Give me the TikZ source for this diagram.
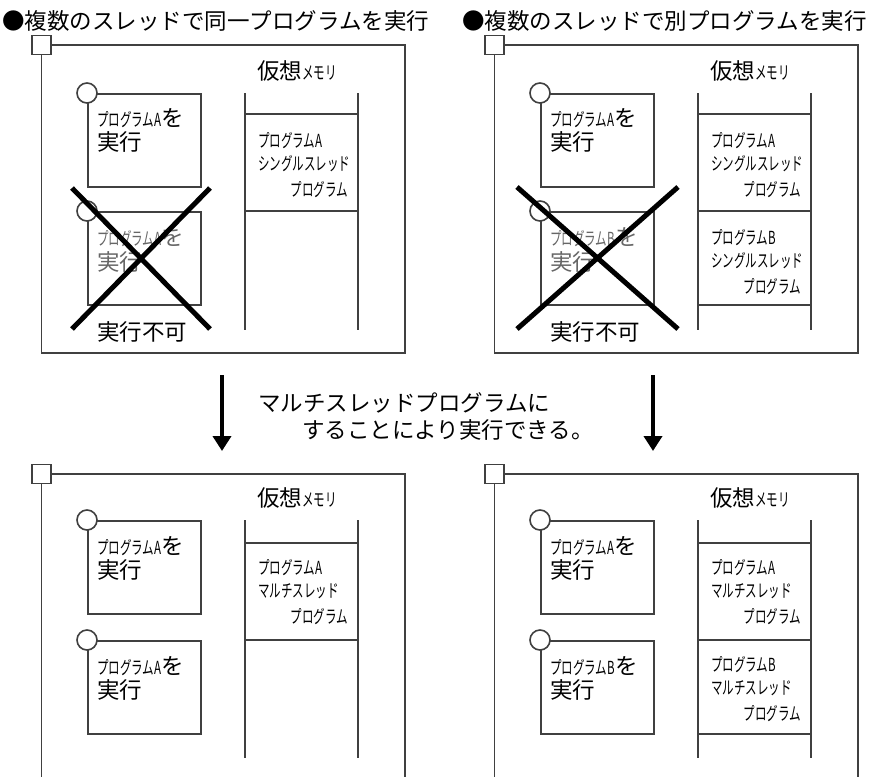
\documentclass[tikz,border=0pt]{standalone}
\usepackage{fontspec}
\usepackage{graphicx}
\setmainfont{Noto Sans CJK JP}
\usetikzlibrary{
  arrows.meta,  % 下向き矢印
  positioning   % 節点の相対配置
}
% 細い小文字のカタカナ (横に縮める)
\newcommand{\hankaku}[1]{{\fontsize{18}{20}\selectfont\scalebox{0.64}[1]{#1}}}
\tikzset{
  wakusen/.style={
    line width=1.6pt,
    draw=black!75
  },
  kado/.style={
    rectangle,
    draw=black!75,
    line width=1.6pt,
    fill=white,
    minimum size=19pt,
    inner sep=0pt
  },
  procbox/.style={
    rectangle,
    draw=black!75,
    line width=1.6pt,
    minimum width=113pt,
    minimum height=93pt,
    inner sep=0pt,
    anchor=north west
  },
  proccirc/.style={
    circle,
    draw=black!75,
    line width=1.6pt,
    fill=white,
    minimum size=20pt,
    inner sep=0pt
  },
  bigtxt/.style={
    font=\fontsize{22.5}{26}\selectfont,
    inner sep=0pt
  },
  memtxt/.style={
    font=\fontsize{18}{20}\selectfont,
    inner sep=0pt
  },
  batsu/.style={
    line width=5pt,
    black
  },
  downarrow/.style={
    -{Triangle[length=15pt,width=18pt]},
    line width=4pt
  }
}

\begin{document}
\begin{tikzpicture}[x=1pt, y=-1pt]
  \useasboundingbox (0,0) rectangle (870,777);

  % --- 左上：同一プログラム (シングルスレッド) ---
  \begin{scope}
    \node[bigtxt, anchor=west] (ttlL) at (2,21) {●複数のスレッドで同一プログラムを実行};
    \node[kado] (sqTL) at (41.5,45) {};
    \draw[wakusen] (sqTL.east) -| (405,353) -| (sqTL.south);
    \node[bigtxt, anchor=west] (vmTL) at (257,71) {仮想\hankaku{メモリ}};

    % 仮想メモリの柱
    \foreach \x in {245,358} \draw[wakusen] (\x,93) -- (\x,330);
    \foreach \y in {114,211} \draw[wakusen] (245,\y) -- (358,\y);
    \node[memtxt, anchor=west] (mTL1) at (258,141) {\hankaku{プログラムA}};
    \node[memtxt, anchor=west] (mTL2) at (258,164) {\hankaku{シングルスレッド}};
    \node[memtxt, anchor=east] (mTL3) at (348,190) {\hankaku{プログラム}};

    % プロセス 2 つ
    \node[procbox] (pTL1) at (87,93) {};
    \node[proccirc] (cTL1) at (pTL1.north west) {};
    \node[bigtxt, anchor=west] (tTL1) at (97,118) {\hankaku{プログラムA}を};
    \node[bigtxt, anchor=west] (uTL1) at (97,142) {実行};
    \node[procbox] (pTL2) at (87,211) {};
    \node[proccirc] (cTL2) at (pTL2.north west) {};
    \node[bigtxt, anchor=west, text=black!60] (tTL2) at (97,237) {\hankaku{プログラムA}を};
    \node[bigtxt, anchor=west, text=black!60] (uTL2) at (97,262) {実行};

    % バツ印
    \draw[batsu] (72,188) -- (210,329);
    \draw[batsu] (72,329) -- (210,188);
    \node[bigtxt, anchor=west] (ngTL) at (97,332) {実行不可};
  \end{scope}

  % --- 右上：別プログラム (シングルスレッド) ---
  \begin{scope}[shift={(453,0)}]
    \node[bigtxt, anchor=west] (ttlR) at (9,21) {●複数のスレッドで別プログラムを実行};
    \node[kado] (sqTR) at (41.5,45) {};
    \draw[wakusen] (sqTR.east) -| (405,353) -| (sqTR.south);
    \node[bigtxt, anchor=west] (vmTR) at (257,71) {仮想\hankaku{メモリ}};

    \foreach \x in {245,358} \draw[wakusen] (\x,93) -- (\x,330);
    \foreach \y in {114,211,305} \draw[wakusen] (245,\y) -- (358,\y);
    \node[memtxt, anchor=west] (mTR1) at (258,141) {\hankaku{プログラムA}};
    \node[memtxt, anchor=west] (mTR2) at (258,164) {\hankaku{シングルスレッド}};
    \node[memtxt, anchor=east] (mTR3) at (348,190) {\hankaku{プログラム}};
    \node[memtxt, anchor=west] (mTR4) at (258,238) {\hankaku{プログラムB}};
    \node[memtxt, anchor=west] (mTR5) at (258,261) {\hankaku{シングルスレッド}};
    \node[memtxt, anchor=east] (mTR6) at (348,287) {\hankaku{プログラム}};

    \node[procbox] (pTR1) at (87,93) {};
    \node[proccirc] (cTR1) at (pTR1.north west) {};
    \node[bigtxt, anchor=west] (tTR1) at (97,118) {\hankaku{プログラムA}を};
    \node[bigtxt, anchor=west] (uTR1) at (97,142) {実行};
    \node[procbox] (pTR2) at (87,211) {};
    \node[proccirc] (cTR2) at (pTR2.north west) {};
    \node[bigtxt, anchor=west, text=black!60] (tTR2) at (97,237) {\hankaku{プログラムB}を};
    \node[bigtxt, anchor=west, text=black!60] (uTR2) at (97,262) {実行};

    \draw[batsu] (64,187) -- (225,329);
    \draw[batsu] (64,329) -- (225,187);
    \node[bigtxt, anchor=west] (ngTR) at (97,332) {実行不可};
  \end{scope}

  % 矢印と説明
  \coordinate (aLs) at (222,375); \coordinate (aLe) at (222,451);
  \coordinate (aRs) at (653,375); \coordinate (aRe) at (653,451);
  \draw[downarrow] (aLs) -- (aLe);
  \draw[downarrow] (aRs) -- (aRe);
  \node[bigtxt, anchor=west] (exp1) at (258,403) {マルチスレッドプログラムに};
  \node[bigtxt, anchor=west] (exp2) at (302,430) {することにより実行できる。};

  % --- 左下：同一プログラム (マルチスレッド) ---
  \begin{scope}[shift={(0,430)}]
    \node[kado] (sqBL) at (41.5,44) {};
    \draw[wakusen] (sqBL.east) -| (405,347);
    \draw[wakusen] (sqBL.south) -- (41.5,347);
    \node[bigtxt, anchor=west] (vmBL) at (257,68) {仮想\hankaku{メモリ}};

    \foreach \x in {245,358} \draw[wakusen] (\x,90) -- (\x,328);
    \foreach \y in {113,210} \draw[wakusen] (245,\y) -- (358,\y);
    \node[memtxt, anchor=west] (mBL1) at (258,138) {\hankaku{プログラムA}};
    \node[memtxt, anchor=west] (mBL2) at (258,161) {\hankaku{マルチスレッド}};
    \node[memtxt, anchor=east] (mBL3) at (348,187) {\hankaku{プログラム}};

    \node[procbox] (pBL1) at (87,90) {};
    \node[proccirc] (cBL1) at (pBL1.north west) {};
    \node[bigtxt, anchor=west] (tBL1) at (97,116) {\hankaku{プログラムA}を};
    \node[bigtxt, anchor=west] (uBL1) at (97,140) {実行};
    \node[procbox] (pBL2) at (87,210) {};
    \node[proccirc] (cBL2) at (pBL2.north west) {};
    \node[bigtxt, anchor=west] (tBL2) at (97,236) {\hankaku{プログラムA}を};
    \node[bigtxt, anchor=west] (uBL2) at (97,260) {実行};
  \end{scope}

  % --- 右下：別プログラム (マルチスレッド) ---
  \begin{scope}[shift={(453,430)}]
    \node[kado] (sqBR) at (41.5,44) {};
    \draw[wakusen] (sqBR.east) -| (405,347);
    \draw[wakusen] (sqBR.south) -- (41.5,347);
    \node[bigtxt, anchor=west] (vmBR) at (257,68) {仮想\hankaku{メモリ}};

    \foreach \x in {245,358} \draw[wakusen] (\x,90) -- (\x,328);
    \foreach \y in {113,210,304} \draw[wakusen] (245,\y) -- (358,\y);
    \node[memtxt, anchor=west] (mBR1) at (258,138) {\hankaku{プログラムA}};
    \node[memtxt, anchor=west] (mBR2) at (258,161) {\hankaku{マルチスレッド}};
    \node[memtxt, anchor=east] (mBR3) at (348,187) {\hankaku{プログラム}};
    \node[memtxt, anchor=west] (mBR4) at (258,235) {\hankaku{プログラムB}};
    \node[memtxt, anchor=west] (mBR5) at (258,258) {\hankaku{マルチスレッド}};
    \node[memtxt, anchor=east] (mBR6) at (348,284) {\hankaku{プログラム}};

    \node[procbox] (pBR1) at (87,90) {};
    \node[proccirc] (cBR1) at (pBR1.north west) {};
    \node[bigtxt, anchor=west] (tBR1) at (97,116) {\hankaku{プログラムA}を};
    \node[bigtxt, anchor=west] (uBR1) at (97,140) {実行};
    \node[procbox] (pBR2) at (87,210) {};
    \node[proccirc] (cBR2) at (pBR2.north west) {};
    \node[bigtxt, anchor=west] (tBR2) at (97,236) {\hankaku{プログラムB}を};
    \node[bigtxt, anchor=west] (uBR2) at (97,260) {実行};
  \end{scope}

\end{tikzpicture}
\end{document}
